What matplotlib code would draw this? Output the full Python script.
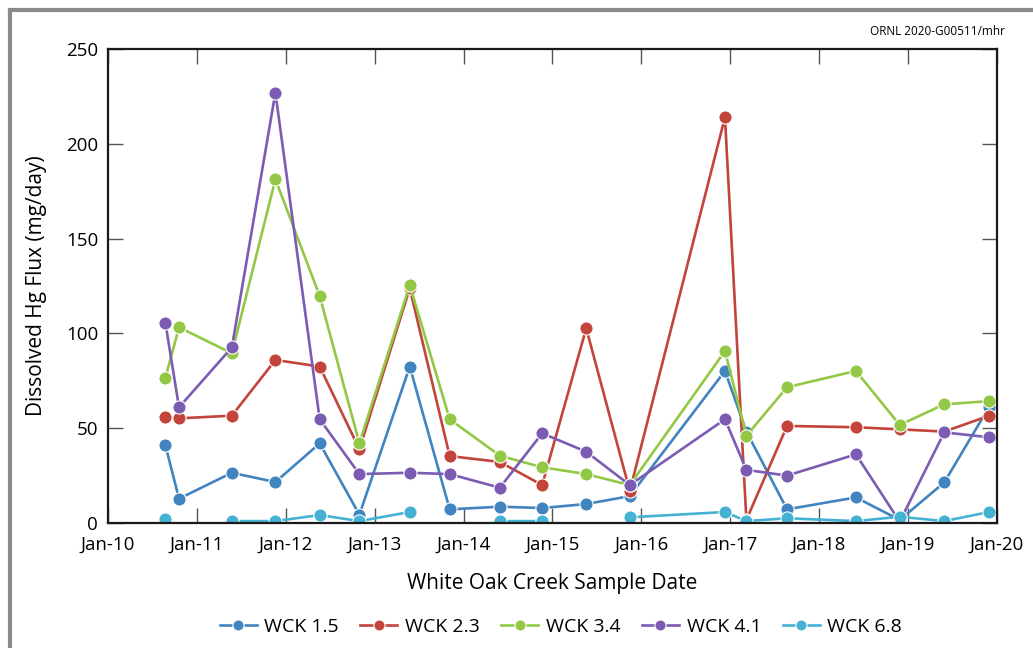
import numpy as np
import pandas as pd
import matplotlib
matplotlib.use("Agg")
import matplotlib.pyplot as plt
import matplotlib.dates as mdates
from matplotlib.lines import Line2D

plt.rcParams['font.family'] = ['Open Sans', 'DejaVu Sans']

# sample dates shared by all stations
dates = pd.to_datetime([
    '2010-08-25', '2010-10-20', '2011-05-25', '2011-11-20', '2012-05-20',
    '2012-10-30', '2013-05-25', '2013-11-05', '2014-05-30', '2014-11-20',
    '2015-05-20', '2015-11-15', '2016-12-10', '2017-03-08', '2017-08-22',
    '2018-06-01', '2018-11-28', '2019-05-30', '2019-12-01',
])

nan = np.nan
wck_1_5 = [41, 12.8, 26.5, 21.6, 42, 4.4, 82.5, 7.2, 8.6, 7.9,
           10, 14.2, 80.2, 48.2, 7.2, 13.5, 1.6, 21.4, 61.4]
wck_2_3 = [55.7, 55.2, 56.6, 86, 82.5, 38.9, 123.8, 35.3, 32.2, 20,
           102.7, 16.9, 214, 1.6, 51.2, 50.5, 49.4, 48.2, 56.6]
wck_3_4 = [76.6, 103.2, 89.5, 181.3, 119.7, 42, 125.5, 54.7, 35.5, 29.4,
           25.8, 20, 90.7, 46, 71.6, 80.2, 51.7, 62.6, 64.3]
wck_4_1 = [105.6, 61, 92.6, 227, 54.7, 25.8, 26.5, 25.8, 18.6, 47.3,
           37.6, 20, 54.7, 28, 25, 36.2, 0.7, 47.8, 45.2]
wck_6_8 = [2.3, nan, 1.0, 1.0, 4.2, 1.0, 5.8, nan, 1.0, 1.0,
           nan, 3.0, 5.8, 1.0, 2.5, 1.0, 3.3, 1.0, 5.8]

series = [
    ('WCK 1.5', wck_1_5, '#4184bf'),
    ('WCK 2.3', wck_2_3, '#c2443a'),
    ('WCK 3.4', wck_3_4, '#93c847'),
    ('WCK 4.1', wck_4_1, '#7c5bb3'),
    ('WCK 6.8', wck_6_8, '#45b2d3'),
]

fig = plt.figure(figsize=(10.33, 6.48), dpi=100)
ax = fig.add_axes([0.1045, 0.1929, 0.8605, 0.7315])

for name, vals, col in series:
    ax.plot(dates, vals, color=col, lw=1.9, marker='o', ms=9.5,
            mfc=col, mec='white', mew=0.8, label=name)

ax.set_xlim(pd.Timestamp('2010-01-01'), pd.Timestamp('2020-01-01'))
ax.set_ylim(0, 250)
ax.xaxis.set_major_locator(mdates.YearLocator())
ax.xaxis.set_major_formatter(mdates.DateFormatter('%b-%y'))
ax.set_yticks([0, 50, 100, 150, 200, 250])

ax.tick_params(direction='in', length=11, width=1, color='#555555',
               top=True, right=True, labelsize=13.5, pad=7)
ax.tick_params(axis='x', pad=9)
for sp in ax.spines.values():
    sp.set_linewidth(1.6)
    sp.set_color('#1a1a1a')

ax.set_xlabel('White Oak Creek Sample Date', fontsize=15, labelpad=14)
ax.set_ylabel('Dissolved Hg Flux (mg/day)', fontsize=15, labelpad=14)

handles = [Line2D([], [], color=c, lw=1.9, marker='o', ms=8, mfc=c,
                  mec='white', mew=0.8) for _, _, c in series]
fig.legend(handles, [s[0] for s in series], loc='center',
           bbox_to_anchor=(0.543, 0.032), ncol=5, frameon=False,
           fontsize=14, handlelength=1.9, handletextpad=0.4,
           columnspacing=1.1)

fig.text(0.973, 0.952, 'ORNL 2020-G00511/mhr', ha='right', va='center',
         fontsize=8.5)

# grey page frame
W, H = 1033, 648
frame_col = '#8a8a8a'
fig.add_artist(Line2D([10 / W, 10 / W], [0, 1 - 10 / H], color=frame_col,
                      lw=3, transform=fig.transFigure))
fig.add_artist(Line2D([10 / W, 1031 / W], [1 - 10 / H, 1 - 10 / H],
                      color=frame_col, lw=3, transform=fig.transFigure))

fig.savefig('out.png', dpi=100)
